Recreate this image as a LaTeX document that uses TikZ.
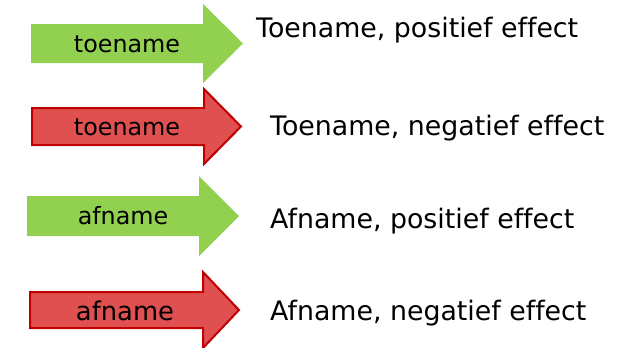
\documentclass[tikz,border=0pt]{standalone}
\usepackage{fontspec}
\setmainfont[Ligatures=NoCommon]{DejaVu Sans}
\definecolor{posgreen}{RGB}{146,208,80}
\definecolor{negfill}{RGB}{224,80,80}
\definecolor{negline}{RGB}{192,0,0}
\begin{document}
\begin{tikzpicture}[x=1bp,y=-1bp,
  posarrow/.style={fill=posgreen,draw=none},
  negarrow/.style={fill=negfill,draw=negline,line width=2bp,line join=miter},
  lbl/.style={inner sep=0pt,font=\fontsize{23.8bp}{28bp}\selectfont},
  lblbig/.style={inner sep=0pt,font=\fontsize{25.8bp}{30bp}\selectfont},
  desc/.style={inner sep=0pt,anchor=base west,font=\fontsize{26.8bp}{32bp}\selectfont}]
\useasboundingbox (0,0) rectangle (627,347);
% arrow 1
\path[posarrow] (31,24) -- (203,24) -- (203,4) -- (243,43.5) -- (203,83) -- (203,63) -- (31,63) -- cycle;
\node[lbl] (l1) at (127,44) {toename};
\node[desc] (d1) at (256,37.3) {Toename, positief effect};
% arrow 2
\path[negarrow] (32,108) -- (204,108) -- (204,89) -- (241,126.5) -- (204,164) -- (204,145) -- (32,145) -- cycle;
\node[lbl] (l2) at (127,127) {toename};
\node[desc] (d2) at (270,135) {Toename, negatief effect};
% arrow 3
\path[posarrow] (27,196) -- (199,196) -- (199,176) -- (239,216) -- (199,256) -- (199,236) -- (27,236) -- cycle;
\node[lbl] (l3) at (123,216) {afname};
\node[desc] (d3) at (270,228) {Afname, positief effect};
% arrow 4
\path[negarrow] (30,292) -- (203,292) -- (203,272) -- (239,310) -- (203,348) -- (203,328) -- (30,328) -- cycle;
\node[lblbig] (l4) at (125,311) {afname};
\node[desc] (d4) at (270,320) {Afname, negatief effect};
\end{tikzpicture}
\end{document}
